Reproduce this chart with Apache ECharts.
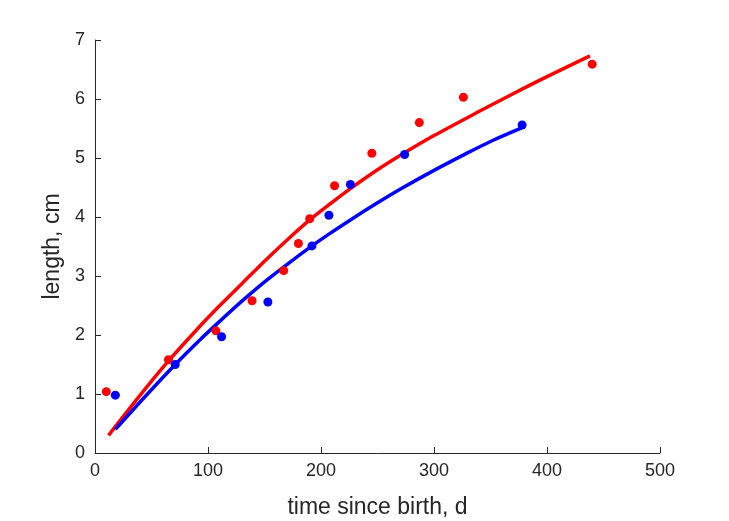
<!DOCTYPE html>
<html>
<head>
<meta charset="utf-8">
<script src="https://cdn.jsdelivr.net/npm/echarts@6/dist/echarts.min.js"></script>
<style>html,body{margin:0;padding:0;background:#fff;}#c{width:729px;height:521px;}</style>
</head>
<body>
<div id="c"></div>
<script>
// Observed data points
const redT = [10, 65, 107, 139, 167, 180, 190, 212, 245, 287, 326, 440];
const redL = [1.04, 1.58, 2.07, 2.58, 3.09, 3.55, 3.97, 4.53, 5.08, 5.60, 6.03, 6.59];
const blueT = [18, 71, 112, 153, 192, 207, 226, 274, 378];
const blueL = [0.98, 1.50, 1.97, 2.56, 3.51, 4.03, 4.55, 5.06, 5.56];
// Fitted curves
const redCurveT = [12, 40, 65, 90, 110, 130, 150, 170, 190, 210, 226, 250, 275, 300, 341, 370, 400, 438];
const redCurveL = [0.30, 0.98, 1.56, 2.09, 2.49, 2.87, 3.25, 3.61, 3.95, 4.25, 4.48, 4.80, 5.10, 5.38, 5.80, 6.09, 6.38, 6.73];
const blueCurveT = [18, 45, 71, 93, 112, 131, 152, 173, 192, 207, 226, 250, 270, 300, 328, 350, 377.6];
const blueCurveL = [0.40, 0.97, 1.50, 1.92, 2.26, 2.59, 2.93, 3.24, 3.51, 3.71, 3.95, 4.24, 4.47, 4.79, 5.07, 5.28, 5.51];
const xTicks = [0, 100, 200, 300, 400, 500];
const yTicks = [0, 1, 2, 3, 4, 5, 6, 7];

const zip = (a, b) => a.map((v, i) => [v, b[i]]);
const FONT = 'Liberation Sans, Arial, Helvetica, sans-serif';
const TXT = '#262626';

const chart = echarts.init(document.getElementById('c'), null, {renderer: 'canvas'});
chart.setOption({
  animation: false,
  backgroundColor: '#ffffff',
  grid: {left: 95, right: 69, top: 40, bottom: 68, containLabel: false, outerBoundsMode: 'none'},
  xAxis: {
    type: 'value', min: xTicks[0], max: xTicks[xTicks.length - 1], interval: 100,
    name: 'time since birth, d', nameLocation: 'middle', nameGap: 43,
    nameTextStyle: {fontFamily: FONT, fontSize: 23, color: TXT},
    axisLine: {show: true, onZero: false, lineStyle: {color: TXT, width: 1}},
    axisTick: {show: true, inside: true, length: 6, lineStyle: {color: TXT}},
    axisLabel: {fontFamily: FONT, fontSize: 18, color: TXT, margin: 9},
    splitLine: {show: false}
  },
  yAxis: {
    type: 'value', min: yTicks[0], max: yTicks[yTicks.length - 1], interval: 1,
    name: 'length, cm', nameLocation: 'middle', nameGap: 28, nameRotate: 90,
    nameTextStyle: {fontFamily: FONT, fontSize: 23, color: TXT},
    axisLine: {show: true, onZero: false, lineStyle: {color: TXT, width: 1}},
    axisTick: {show: true, inside: true, length: 6, lineStyle: {color: TXT}},
    axisLabel: {fontFamily: FONT, fontSize: 18, color: TXT, margin: 10},
    splitLine: {show: false}
  },
  series: [
    {type: 'line', data: zip(redCurveT, redCurveL), smooth: 0.3, symbol: 'none',
     lineStyle: {color: '#ff0000', width: 3.5}, z: 2},
    {type: 'line', data: zip(blueCurveT, blueCurveL), smooth: 0.3, symbol: 'none',
     lineStyle: {color: '#0000ff', width: 3.5}, z: 3},
    {type: 'scatter', data: zip(redT, redL), symbol: 'circle', symbolSize: 9,
     itemStyle: {color: '#ff0000', opacity: 1}, z: 4},
    {type: 'scatter', data: zip(blueT, blueL), symbol: 'circle', symbolSize: 9,
     itemStyle: {color: '#0000ff', opacity: 1}, z: 5}
  ]
});
</script>
</body>
</html>
